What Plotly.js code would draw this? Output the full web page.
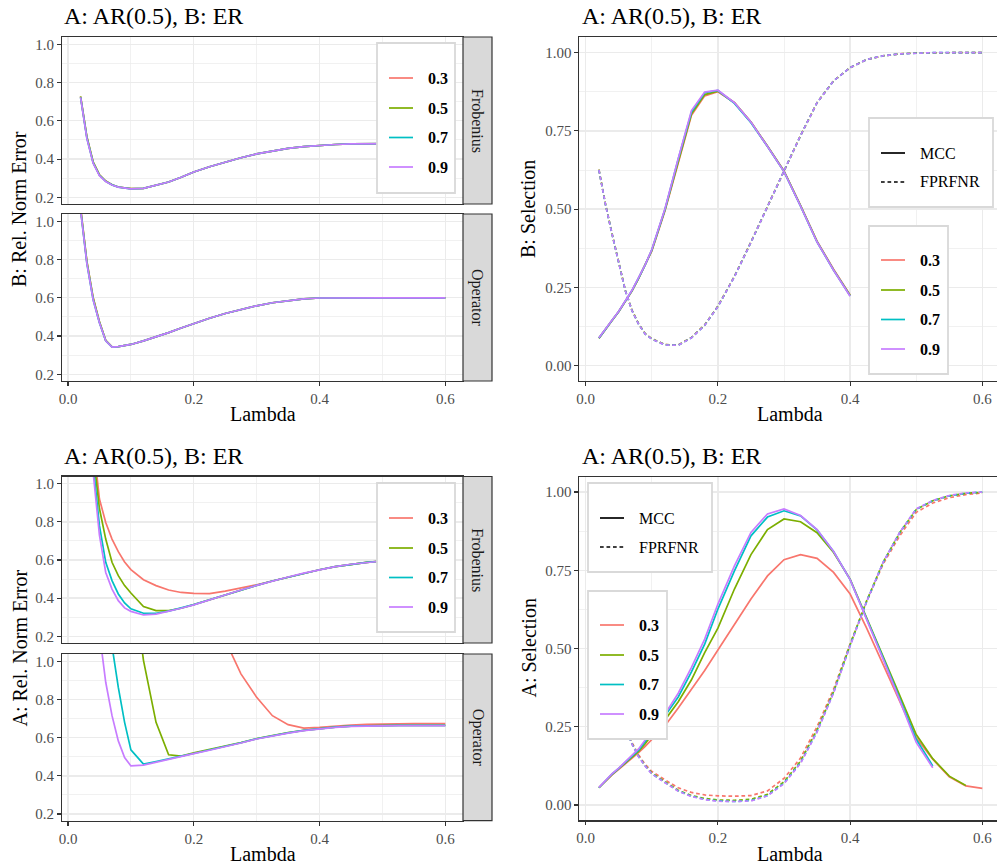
<!DOCTYPE html>
<html><head><meta charset="utf-8">
<script src="https://cdn.plot.ly/plotly-3.0.1.min.js"></script>
<style>html,body{margin:0;padding:0;background:#fff}#chart{width:997px;height:867px}</style>
</head><body><div id="chart"></div>
<script>
// ================= DATA =================
const lambda = [0.02,0.03,0.04,0.05,0.06,0.07,0.08,0.09,0.10,
  0.12,0.14,0.16,0.18,0.20,
  0.225,0.25,0.275,0.30,0.325,0.35,0.375,0.40,0.425,0.45,0.475,0.50,0.525,0.55,0.575,0.60];
const rhoLabels = ['0.3','0.5','0.7','0.9'];
const metricLabels = ['MCC','FPRFNR'];
const normLabels = ['Frobenius','Operator'];
const panelTitle = 'A: AR(0.5), B: ER';
const xTitle = 'Lambda';
const yTitles = ['B: Rel. Norm Error','B: Selection','A: Rel. Norm Error','A: Selection'];
const xTickVals = [0, 0.2, 0.4, 0.6];
const xTickText = ['0.0','0.2','0.4','0.6'];
const xMinorVals = [0.1, 0.3, 0.5];
const errTickVals = [0.2, 0.4, 0.6, 0.8, 1.0];
const errTickText = ['0.2','0.4','0.6','0.8','1.0'];
const errMinorVals = [0.3, 0.5, 0.7, 0.9];
const selTickVals = [0, 0.25, 0.5, 0.75, 1.0];
const selTickText = ['0.00','0.25','0.50','0.75','1.00'];
const selMinorVals = [0.125, 0.375, 0.625, 0.875];

// ---- B (top row) ----
const bFrob03 = [0.726,0.515,0.383,0.317,0.285,0.266,0.254,0.248,0.245,0.247,0.262,0.28,0.305,0.332,0.36,0.385,0.407,0.427,0.443,0.456,0.465,0.472,0.476,0.479,0.48,0.481,0.482,0.482,0.482,0.482];
const bFrob05 = [0.727,0.517,0.385,0.318,0.285,0.266,0.254,0.248,0.245,0.247,0.262,0.28,0.305,0.332,0.36,0.385,0.407,0.427,0.443,0.456,0.465,0.472,0.476,0.479,0.48,0.481,0.482,0.482,0.482,0.482];
const bFrob07 = [0.723,0.51,0.38,0.315,0.283,0.265,0.253,0.247,0.244,0.247,0.262,0.28,0.305,0.332,0.36,0.385,0.407,0.427,0.443,0.456,0.465,0.472,0.476,0.479,0.48,0.481,0.482,0.482,0.482,0.482];
const bFrob09 = [0.722,0.508,0.378,0.313,0.282,0.264,0.253,0.247,0.244,0.247,0.262,0.28,0.305,0.332,0.36,0.385,0.407,0.427,0.443,0.456,0.465,0.472,0.476,0.479,0.48,0.481,0.482,0.482,0.482,0.482];

const bOp03 = [1.07,0.79,0.6,0.475,0.378,0.343,0.345,0.35,0.356,0.375,0.395,0.418,0.442,0.465,0.493,0.518,0.54,0.558,0.574,0.586,0.594,0.599,0.6,0.6,0.6,0.6,0.6,0.6,0.6,0.6];
const bOp05 = [1.07,0.79,0.6,0.474,0.377,0.343,0.345,0.35,0.356,0.375,0.395,0.418,0.442,0.465,0.493,0.518,0.54,0.558,0.574,0.586,0.594,0.599,0.6,0.6,0.6,0.6,0.6,0.6,0.6,0.6];
const bOp07 = [1.06,0.78,0.59,0.47,0.375,0.342,0.345,0.35,0.356,0.375,0.395,0.418,0.442,0.465,0.493,0.518,0.54,0.558,0.574,0.586,0.594,0.599,0.6,0.6,0.6,0.6,0.6,0.6,0.6,0.6];
const bOp09 = [1.06,0.78,0.59,0.47,0.375,0.342,0.345,0.35,0.356,0.375,0.395,0.418,0.442,0.465,0.493,0.518,0.54,0.558,0.574,0.586,0.594,0.599,0.6,0.6,0.6,0.6,0.6,0.6,0.6,0.6];

const bMcc03 = [0.087,0.114,0.144,0.172,0.204,0.238,0.278,0.32,0.366,0.495,0.65,0.80,0.862,0.875,0.84,0.778,0.702,0.622,0.512,0.398,0.308,0.226,null,null,null,null,null,null,null,null];
const bMcc05 = [0.088,0.115,0.145,0.173,0.205,0.239,0.279,0.321,0.368,0.498,0.655,0.805,0.866,0.877,0.84,0.778,0.701,0.621,0.511,0.396,0.306,0.224,null,null,null,null,null,null,null,null];
const bMcc07 = [0.088,0.115,0.145,0.173,0.205,0.24,0.28,0.322,0.37,0.50,0.66,0.81,0.872,0.879,0.838,0.776,0.70,0.62,0.51,0.395,0.305,0.223,null,null,null,null,null,null,null,null];
const bMcc09 = [0.089,0.116,0.146,0.174,0.206,0.241,0.281,0.323,0.371,0.502,0.662,0.815,0.874,0.88,0.84,0.778,0.70,0.62,0.51,0.395,0.305,0.222,null,null,null,null,null,null,null,null];

const bFpr03 = [0.626,0.515,0.42,0.325,0.24,0.177,0.134,0.102,0.086,0.067,0.066,0.09,0.13,0.19,0.285,0.395,0.51,0.622,0.735,0.84,0.91,0.952,0.978,0.99,0.996,0.999,1,1,1,1];
const bFpr05 = [0.626,0.515,0.42,0.325,0.24,0.177,0.134,0.102,0.086,0.067,0.066,0.09,0.13,0.19,0.285,0.395,0.51,0.622,0.735,0.84,0.91,0.952,0.978,0.99,0.996,0.999,1,1,1,1];
const bFpr07 = [0.625,0.514,0.419,0.324,0.239,0.176,0.133,0.101,0.085,0.066,0.065,0.089,0.129,0.189,0.284,0.394,0.51,0.622,0.735,0.84,0.91,0.952,0.978,0.99,0.996,0.999,1,1,1,1];
const bFpr09 = [0.625,0.514,0.419,0.324,0.239,0.176,0.133,0.101,0.085,0.066,0.065,0.089,0.129,0.189,0.284,0.394,0.51,0.622,0.735,0.84,0.91,0.952,0.978,0.99,0.996,0.999,1,1,1,1];

// ---- A (bottom row) ----
const aFrob03 = [1.9,1.5,1.22,0.92,0.797,0.71,0.644,0.59,0.55,0.497,0.466,0.443,0.43,0.425,0.424,0.437,0.452,0.47,0.49,0.511,0.531,0.549,0.565,0.578,0.588,0.595,0.6,0.603,0.605,0.606];
const aFrob05 = [1.8,1.45,1.16,0.87,0.71,0.588,0.518,0.466,0.427,0.356,0.335,0.335,0.347,0.366,0.392,0.418,0.443,0.467,0.49,0.511,0.531,0.549,0.565,0.578,0.588,0.595,0.6,0.603,0.605,0.606];
const aFrob07 = [1.75,1.4,1.1,0.78,0.588,0.492,0.422,0.375,0.344,0.321,0.321,0.332,0.349,0.366,0.392,0.418,0.443,0.467,0.49,0.511,0.531,0.549,0.565,0.578,0.588,0.595,0.6,0.603,0.605,0.606];
const aFrob09 = [1.7,1.35,1.06,0.73,0.535,0.448,0.387,0.349,0.331,0.312,0.316,0.33,0.347,0.365,0.392,0.418,0.443,0.467,0.49,0.511,0.531,0.549,0.565,0.578,0.588,0.595,0.6,0.603,0.605,0.606];

const aOp03 = [6.0,5.5,5.0,4.5,4.0,3.6,3.3,3.0,2.7,2.3,2.0,1.8,1.6,1.45,1.3,1.11,0.934,0.811,0.715,0.668,0.65,0.654,0.661,0.666,0.669,0.671,0.672,0.673,0.673,0.673];
const aOp05 = [5.0,4.4,3.8,3.3,2.9,2.5,2.2,1.9,1.5,1.005,0.68,0.51,0.503,0.52,0.537,0.554,0.574,0.595,0.612,0.626,0.638,0.648,0.655,0.66,0.662,0.664,0.664,0.664,0.664,0.664];
const aOp07 = [4.0,3.4,2.8,2.2,1.6,1.08,0.863,0.68,0.536,0.461,0.474,0.49,0.503,0.517,0.535,0.552,0.573,0.594,0.611,0.625,0.638,0.648,0.655,0.66,0.662,0.664,0.664,0.664,0.664,0.664];
const aOp09 = [3.0,2.3,1.7,1.15,0.89,0.715,0.583,0.496,0.452,0.456,0.472,0.488,0.502,0.516,0.534,0.551,0.572,0.593,0.61,0.624,0.637,0.647,0.654,0.659,0.661,0.663,0.663,0.663,0.663,0.663];

const aMcc03 = [0.055,0.077,0.096,0.114,0.131,0.149,0.167,0.187,0.208,0.253,0.31,0.37,0.43,0.495,0.575,0.658,0.732,0.784,0.80,0.788,0.743,0.674,0.565,0.45,0.33,0.215,0.146,0.09,0.061,0.053];
const aMcc05 = [0.055,0.078,0.098,0.116,0.134,0.152,0.171,0.196,0.224,0.272,0.33,0.40,0.487,0.565,0.69,0.80,0.88,0.914,0.905,0.87,0.807,0.722,0.60,0.475,0.35,0.225,0.148,0.092,0.062,null];
const aMcc07 = [0.055,0.078,0.099,0.117,0.136,0.155,0.175,0.203,0.234,0.285,0.345,0.425,0.514,0.626,0.748,0.86,0.92,0.94,0.924,0.879,0.81,0.72,0.598,0.47,0.34,0.21,0.125,null,null,null];
const aMcc09 = [0.056,0.079,0.1,0.118,0.138,0.158,0.179,0.208,0.24,0.291,0.357,0.44,0.53,0.642,0.764,0.871,0.93,0.946,0.925,0.88,0.81,0.72,0.595,0.465,0.335,0.20,0.119,null,null,null];

const aFpr03 = [0.62,0.51,0.41,0.325,0.255,0.2,0.16,0.13,0.107,0.08,0.055,0.04,0.032,0.029,0.028,0.03,0.045,0.085,0.15,0.25,0.37,0.515,0.65,0.77,0.86,0.935,0.965,0.982,0.992,0.997];
const aFpr05 = [0.62,0.51,0.41,0.32,0.25,0.196,0.156,0.126,0.102,0.074,0.047,0.03,0.021,0.016,0.015,0.018,0.034,0.074,0.14,0.24,0.362,0.512,0.652,0.776,0.87,0.944,0.972,0.988,0.996,0.999];
const aFpr07 = [0.62,0.51,0.41,0.32,0.25,0.195,0.155,0.125,0.1,0.072,0.045,0.028,0.018,0.013,0.011,0.014,0.03,0.07,0.135,0.235,0.36,0.51,0.65,0.775,0.87,0.945,0.972,0.988,0.996,1.0];
const aFpr09 = [0.62,0.51,0.41,0.32,0.25,0.194,0.154,0.124,0.099,0.071,0.044,0.027,0.017,0.012,0.011,0.013,0.029,0.068,0.133,0.233,0.358,0.508,0.65,0.776,0.871,0.946,0.973,0.989,0.997,1.0];

// ================= STYLE / LAYOUT =================
const W = 997, H = 867;
const FONT = 'Liberation Serif';
const COLORS = ['#F8766D','#7CAE00','#00BFC4','#C77CFF'];
const DASH = '3.7px,2.8px';
const LW = 1.7;
const px = v => v / W;
const py = v => 1 - v / H;

// panel pixel boxes [left, top, right, bottom]
const BOX = {
  tlF: [62, 37, 463, 204],
  tlO: [62, 214, 463, 381],
  tr:  [579.3, 37.3, 997, 381],
  blF: [62, 476.5, 463, 643],
  blO: [62, 654, 463, 820.7],
  br:  [579.3, 476.7, 997, 820.3]
};
const dom = b => ({x: [px(b[0]), px(b[2])], y: [py(b[3]), py(b[1])]});

const xRangeL = [-0.00954, 0.6281];
const xRangeR = [-0.00968, 0.6222];
const yRangeErr = [0.165, 1.038];
const yRangeSel = [-0.049, 1.049];

function axis(domain, range, tv, tt, minor, opts) {
  return Object.assign({
    domain: domain, range: range, fixedrange: true, zeroline: false,
    showline: true, linecolor: '#333333', linewidth: 1.2, mirror: true,
    showgrid: true, gridcolor: '#EBEBEB', gridwidth: 1.4,
    tickmode: 'array', tickvals: tv, ticktext: tt,
    ticks: 'outside', ticklen: 3.7, tickwidth: 1.1, tickcolor: '#333333',
    tickfont: {family: FONT, size: 15, color: '#4D4D4D'},
    minor: {tickmode: 'array', tickvals: minor, showgrid: true, gridcolor: '#EBEBEB', gridwidth: 0.7, ticks: ''}
  }, opts || {});
}

const layout = {
  width: W, height: H, margin: {l: 0, r: 0, t: 0, b: 0},
  paper_bgcolor: '#ffffff', plot_bgcolor: '#ffffff', showlegend: false,
  font: {family: FONT, color: '#000000'},
  shapes: [], annotations: []
};

const panels = [
  {key: 'tlF', n: '',  xr: xRangeL, yr: yRangeErr, sel: false, xlab: false},
  {key: 'tlO', n: '2', xr: xRangeL, yr: yRangeErr, sel: false, xlab: true},
  {key: 'tr',  n: '3', xr: xRangeR, yr: yRangeSel, sel: true,  xlab: true},
  {key: 'blF', n: '4', xr: xRangeL, yr: yRangeErr, sel: false, xlab: false},
  {key: 'blO', n: '5', xr: xRangeL, yr: yRangeErr, sel: false, xlab: true},
  {key: 'br',  n: '6', xr: xRangeR, yr: yRangeSel, sel: true,  xlab: true}
];
panels.forEach(p => {
  const d = dom(BOX[p.key]);
  const xo = {anchor: 'y' + p.n};
  if (!p.xlab) { xo.showticklabels = false; xo.ticks = ''; }
  layout['xaxis' + p.n] = axis(d.x, p.xr, xTickVals, xTickText, xMinorVals, xo);
  const yo = {anchor: 'x' + p.n};
  if (p.sel) yo.mirror = false;
  layout['yaxis' + p.n] = axis(d.y, p.yr,
    p.sel ? selTickVals : errTickVals, p.sel ? selTickText : errTickText,
    p.sel ? selMinorVals : errMinorVals, yo);
});

// ================= TRACES =================
const traces = [];
function addLine(n, y, ci, dash) {
  traces.push({
    type: 'scatter', mode: 'lines', x: lambda, y: y,
    xaxis: 'x' + n, yaxis: 'y' + n, showlegend: false, hoverinfo: 'skip',
    connectgaps: false,
    line: {color: COLORS[ci], width: LW, dash: dash || 'solid'}
  });
}
[bFrob03, bFrob05, bFrob07, bFrob09].forEach((y, i) => addLine('', y, i));
[bOp03, bOp05, bOp07, bOp09].forEach((y, i) => addLine('2', y, i));
[[bMcc03, bFpr03], [bMcc05, bFpr05], [bMcc07, bFpr07], [bMcc09, bFpr09]].forEach((pr, i) => {
  addLine('3', pr[0], i); addLine('3', pr[1], i, DASH);
});
[aFrob03, aFrob05, aFrob07, aFrob09].forEach((y, i) => addLine('4', y, i));
[aOp03, aOp05, aOp07, aOp09].forEach((y, i) => addLine('5', y, i));
[[aMcc03, aFpr03], [aMcc05, aFpr05], [aMcc07, aFpr07], [aMcc09, aFpr09]].forEach((pr, i) => {
  addLine('6', pr[0], i); addLine('6', pr[1], i, DASH);
});

// ================= DECORATION =================
const S = layout.shapes, A = layout.annotations;

// facet strips
[['tlF', 0], ['tlO', 1], ['blF', 0], ['blO', 1]].forEach(([k, li]) => {
  const b = BOX[k];
  S.push({type: 'rect', xref: 'paper', yref: 'paper', x0: px(463), x1: px(492), y0: py(b[3]), y1: py(b[1]),
    fillcolor: '#D9D9D9', line: {color: '#333333', width: 1.2}, layer: 'above'});
  A.push({xref: 'paper', yref: 'paper', x: px(477.5), y: py((b[1] + b[3]) / 2), text: normLabels[li],
    textangle: 90, showarrow: false, xanchor: 'center', yanchor: 'middle',
    font: {family: FONT, size: 16, color: '#1A1A1A'}});
});

// panel titles
[[62, 16], [580, 16], [62, 455.5], [580, 455.5]].forEach(([x, y]) => {
  A.push({xref: 'paper', yref: 'paper', x: px(x), y: py(y), text: panelTitle, showarrow: false,
    xanchor: 'left', yanchor: 'middle', font: {family: FONT, size: 24, color: '#000000'}});
});

// axis titles
[[262.5, 413.5], [790, 413.5], [262.5, 853.5], [790, 853.5]].forEach(([x, y]) => {
  A.push({xref: 'paper', yref: 'paper', x: px(x), y: py(y), text: xTitle, showarrow: false,
    xanchor: 'center', yanchor: 'middle', font: {family: FONT, size: 20, color: '#000000'}});
});
[[19, 209, 0], [528, 209, 1], [19, 648.5, 2], [528, 648.5, 3]].forEach(([x, y, i]) => {
  A.push({xref: 'paper', yref: 'paper', x: px(x), y: py(y), text: yTitles[i], showarrow: false,
    textangle: -90, xanchor: 'center', yanchor: 'middle', font: {family: FONT, size: 20, color: '#000000'}});
});

// legends (box [l,t,r,b], item centre y)
const legends = [
  {box: [377, 43, 455, 193], items: [78, 108, 137.5, 167], kind: 'rho'},
  {box: [869, 118, 993, 207], items: [153, 182], kind: 'metric'},
  {box: [869, 226, 948, 374], items: [260, 290, 319.5, 349], kind: 'rho'},
  {box: [377, 483, 455, 632], items: [518, 548, 577.5, 607], kind: 'rho'},
  {box: [588, 483, 712, 572], items: [518, 547], kind: 'metric'},
  {box: [588, 591, 667, 739], items: [625, 655, 684.5, 714], kind: 'rho'}
];
legends.forEach(L => {
  const [l, t, r, b] = L.box;
  S.push({type: 'rect', xref: 'paper', yref: 'paper', x0: px(l), x1: px(r), y0: py(b), y1: py(t),
    fillcolor: '#ffffff', line: {color: '#D9D9D9', width: 1.8}, layer: 'above'});
  L.items.forEach((yy, i) => {
    const isRho = L.kind === 'rho';
    S.push({type: 'line', xref: 'paper', yref: 'paper', x0: px(l + 12), x1: px(l + 36), y0: py(yy), y1: py(yy),
      line: {color: isRho ? COLORS[i] : '#000000', width: LW, dash: (!isRho && i === 1) ? DASH : 'solid'}, layer: 'above'});
    A.push({xref: 'paper', yref: 'paper', x: px(l + 49), y: py(yy), text: isRho ? rhoLabels[i] : metricLabels[i],
      showarrow: false, xanchor: 'left', yanchor: 'middle',
      font: {family: FONT, size: 16, color: '#000000', weight: isRho ? 'bold' : 'normal'}});
  });
});

Plotly.newPlot('chart', traces, layout, {staticPlot: true, displayModeBar: false});
</script></body></html>
